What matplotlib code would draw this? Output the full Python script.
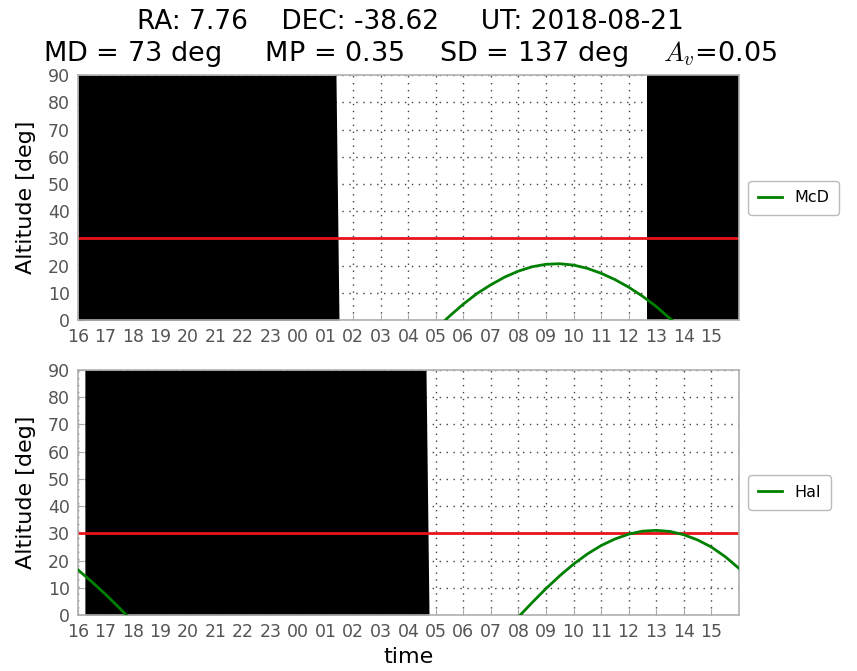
import numpy as np
import matplotlib
matplotlib.use("Agg")
import matplotlib.pyplot as plt

plt.rcParams["mathtext.fontset"] = "cm"

# hours since 00 UT of the first night (16 -> 40 == 16:00 -> 16:00 next day)
hour_ticks = list(range(16, 40))
hour_labels = ["%02d" % (h % 24) for h in hour_ticks]

# McDonald: target altitude
mcd_hours = [29.0, 29.5, 30.0, 30.5, 31.0, 31.5, 32.0, 32.5, 33.0, 33.5,
             34.0, 34.5, 35.0, 35.5, 36.0, 36.5, 37.0, 37.5, 38.0]
mcd_alt = [-3.3, 1.5, 5.9, 9.8, 13.0, 15.8, 18.0, 19.6, 20.5, 20.7,
           20.2, 19.0, 17.2, 14.9, 12.1, 8.8, 5.0, 0.6, -3.8]

# Haleakala: tail of the previous transit + the main arc
hal_prev_hours = [16.0, 16.5, 17.0, 17.5, 18.0]
hal_prev_alt = [16.6, 12.2, 7.6, 2.6, -2.6]
hal_hours = [31.5, 32.0, 32.5, 33.0, 33.5, 34.0, 34.5, 35.0, 35.5, 36.0,
             36.5, 37.0, 37.5, 38.0, 38.5, 39.0, 39.5, 40.0]
hal_alt = [-6.1, -0.7, 4.6, 9.7, 14.4, 18.7, 22.4, 25.5, 27.9, 29.7,
           30.8, 31.1, 30.7, 29.5, 27.6, 25.0, 21.5, 17.2]

# daylight blocks: (start at bottom, start at top, end at bottom, end at top)
mcd_day = [(16.0, 16.0, 25.48, 25.37), (36.65, 36.65, 40.0, 40.0)]
hal_day = [(16.25, 16.25, 28.75, 28.64)]

alt_limit = 30
title_1 = "RA: 7.76    DEC: -38.62     UT: 2018-08-21"
title_2 = "MD = 73 deg     MP = 0.35    SD = 137 deg    $A_v$=0.05"

fig = plt.figure(figsize=(8.57, 6.71), dpi=100)
ax1 = fig.add_axes([0.091, 0.523, 0.771, 0.365])
ax2 = fig.add_axes([0.091, 0.0835, 0.771, 0.365])

sites = [
    (ax1, "McD", mcd_day, [(mcd_hours, mcd_alt)]),
    (ax2, "Hal", hal_day, [(hal_prev_hours, hal_prev_alt), (hal_hours, hal_alt)]),
]

for ax, name, days, curves in sites:
    ax.set_axisbelow(True)
    ax.grid(True, color="0.25", linestyle=(0, (1, 4)), linewidth=1.0)
    for x0b, x0t, x1b, x1t in days:
        ax.fill_betweenx([0, 90], [x0b, x0t], [x1b, x1t], color="k", linewidth=0, zorder=1)
    ax.axhline(alt_limit, color="#e8141a", linewidth=2, zorder=2)
    for i, (hh, aa) in enumerate(curves):
        ax.plot(hh, aa, color="green", linewidth=2, zorder=3,
                label=name if i == len(curves) - 1 else None)
    ax.set_xlim(16, 40)
    ax.set_ylim(0, 90)
    ax.set_xticks(hour_ticks)
    ax.set_xticklabels(hour_labels)
    ax.set_yticks(range(0, 91, 10))
    ax.tick_params(labelsize=12.5, labelcolor="#555555", color="#aaaaaa",
                   direction="in", length=4, pad=6)
    for sp in ax.spines.values():
        sp.set_color("#b0b0b0")
        sp.set_linewidth(1.2)
    ax.set_ylabel("Altitude [deg]", fontsize=16, labelpad=8)
    leg = ax.legend(loc="center left", bbox_to_anchor=(1.0, 0.5), fontsize=11.5,
                    handlelength=1.5, borderpad=0.6, borderaxespad=0.6, fancybox=True)
    leg.get_frame().set_edgecolor("#aaaaaa")

ax2.set_xlabel("time", fontsize=16)

fig.text(0.479, 0.967, title_1, ha="center", va="center", fontsize=19)
fig.text(0.479, 0.919, title_2, ha="center", va="center", fontsize=19.5)

fig.savefig("out.png", dpi=100)
